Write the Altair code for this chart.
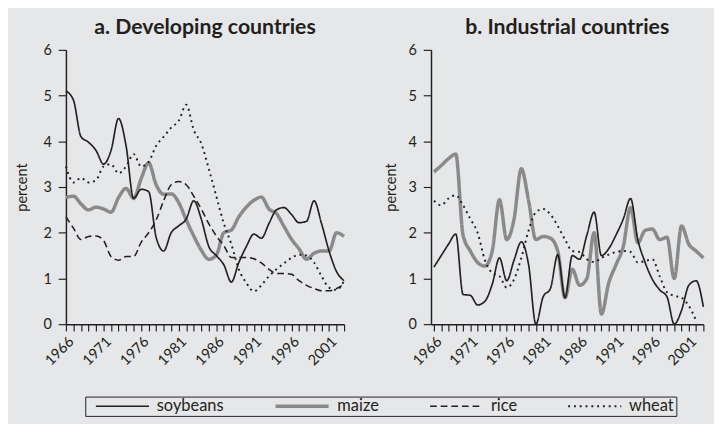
import altair as alt
import pandas as pd

years = list(range(1966, 2004))
crops = ["soybeans", "maize", "rice", "wheat"]

# a. Developing countries (percent)
dev_soybeans = [5.1, 4.9, 4.1, 3.98, 3.8, 3.5, 3.8, 4.5, 3.9, 2.75, 2.95, 2.9, 1.9, 1.6, 2.0, 2.15, 2.3, 2.7, 2.3, 1.7,
                1.5, 1.3, 0.92, 1.35, 1.7, 1.97, 1.88, 2.2, 2.5, 2.55, 2.4, 2.22, 2.25, 2.7, 2.2, 1.6, 1.15, 0.95]
dev_maize = [2.77, 2.8, 2.63, 2.5, 2.56, 2.52, 2.45, 2.77, 2.97, 2.75, 3.18, 3.53, 3.05, 2.84, 2.85, 2.66, 2.28, 1.93, 1.62, 1.42,
             1.51, 2.0, 2.06, 2.35, 2.56, 2.71, 2.78, 2.52, 2.42, 2.14, 1.86, 1.65, 1.42, 1.55, 1.6, 1.6, 2.0, 1.92]
dev_rice = [2.35, 2.1, 1.85, 1.92, 1.93, 1.83, 1.48, 1.4, 1.48, 1.48, 1.79, 2.0, 2.28, 2.7, 3.05, 3.12, 3.05, 2.8, 2.52, 2.2,
            1.93, 1.72, 1.46, 1.46, 1.46, 1.43, 1.34, 1.2, 1.11, 1.11, 1.09, 0.95, 0.85, 0.78, 0.73, 0.73, 0.78, 0.88]
dev_wheat = [3.45, 3.1, 3.2, 3.1, 3.15, 3.45, 3.5, 3.3, 3.45, 3.72, 3.45, 3.55, 3.9, 4.1, 4.3, 4.45, 4.8, 4.25, 3.95, 3.4,
             2.8, 2.2, 1.75, 1.2, 0.9, 0.72, 0.85, 1.05, 1.2, 1.33, 1.45, 1.52, 1.5, 1.35, 1.05, 0.8, 0.75, 0.95]

# b. Industrial countries (percent)
ind_soybeans = [1.25, 1.5, 1.75, 1.97, 0.65, 0.63, 0.42, 0.5, 0.87, 1.45, 0.95, 1.4, 1.8, 1.3, 0.0, 0.6, 0.78, 1.52, 0.58, 1.5,
                1.42, 1.95, 2.45, 1.5, 1.65, 1.95, 2.3, 2.75, 1.85, 1.35, 0.98, 0.75, 0.6, 0.0, 0.3, 0.85, 0.95, 0.38]
ind_maize = [3.33, 3.47, 3.62, 3.72, 1.95, 1.6, 1.35, 1.27, 1.6, 2.72, 1.85, 2.3, 3.4, 2.7, 1.85, 1.92, 1.88, 1.6, 0.58, 1.2,
             0.85, 1.0, 2.0, 0.22, 0.9, 1.3, 1.7, 2.55, 1.78, 2.05, 2.08, 1.85, 1.9, 1.0, 2.15, 1.75, 1.6, 1.45]
ind_rice = [None] * 38
ind_wheat = [2.7, 2.6, 2.75, 2.82, 2.6, 2.3, 2.0, 1.4, 1.12, 1.05, 0.8, 0.98, 1.45, 2.05, 2.45, 2.52, 2.4, 2.15, 1.85, 1.6,
             1.58, 1.42, 1.36, 1.45, 1.52, 1.58, 1.6, 1.58, 1.35, 1.38, 1.42, 1.05, 0.7, 0.62, 0.58, 0.4, 0.08, None]

draw_order = ["maize", "soybeans", "rice", "wheat"]


def make_frame(series):
    rows = []
    for i, crop in enumerate(draw_order):
        for yr, v in zip(years, series[crop]):
            if v is not None:
                rows.append({"year": yr, "value": v, "crop": crop, "k": i})
    return pd.DataFrame(rows)


dev_df = make_frame({"soybeans": dev_soybeans, "maize": dev_maize, "rice": dev_rice, "wheat": dev_wheat})
ind_df = make_frame({"soybeans": ind_soybeans, "maize": ind_maize, "rice": ind_rice, "wheat": ind_wheat})

FONT = "Lato"
INK = "#231f20"

legend = alt.Legend(
    title=None, orient="none", legendX=20, legendY=359, direction="horizontal",
    strokeColor=INK, padding=2, symbolType="stroke", symbolSize=3025, clipHeight=16, symbolOffset=8,
    labelFont=FONT, labelFontSize=17, labelColor=INK, columnPadding=43, labelOffset=7,
    symbolStrokeColor=INK,
)

color = alt.Color("crop:N", scale=alt.Scale(domain=crops, range=[INK, "#8a8a8a", INK, INK]), legend=legend)
dash = alt.StrokeDash("crop:N", scale=alt.Scale(domain=crops, range=[[1, 0], [1, 0], [7, 4], [2, 4]]), legend=legend)
swidth = alt.StrokeWidth("crop:N", scale=alt.Scale(type="ordinal", domain=crops, range=[1.7, 3.6, 1.6, 2.0]),
                         legend=legend)

label_expr = "(datum.value - 1966) % 5 == 0 ? format(datum.value, 'd') : ''"


def panel(df, title, xdomain, title_pad, width):
    return alt.Chart(df).mark_line(interpolate="monotone", strokeCap="butt").encode(
        x=alt.X("year:Q", scale=alt.Scale(domain=xdomain, nice=False, zero=False),
                axis=alt.Axis(values=years, labelExpr=label_expr, labelAngle=-45, tickSize=7,
                              title=None, grid=False, labelFontSize=15, labelFont=FONT, labelColor=INK,
                              labelPadding=3, labelOverlap=False, labelFlush=False)),
        y=alt.Y("value:Q", scale=alt.Scale(domain=[0, 6], nice=False),
                axis=alt.Axis(values=[0, 1, 2, 3, 4, 5, 6], tickSize=8, title="percent", grid=False,
                              labelFontSize=15, labelFont=FONT, labelColor=INK, labelPadding=7,
                              titleFont=FONT, titleFontSize=15, titleFontWeight="normal", titleColor=INK,
                              titlePadding=title_pad)),
        color=color,
        strokeDash=dash,
        strokeWidth=swidth,
        order=alt.Order("k:Q"),
    ).properties(
        width=width, height=284,
        title=alt.TitleParams(title, font=FONT, fontSize=22, fontWeight="bold", color=INK,
                              anchor="middle", offset=4),
    )


left = panel(dev_df, "a. Developing countries", [1966, 2003], 14, 288)
right = panel(ind_df, "b. Industrial countries", [1965.6, 2003], 10, 282)

chart = alt.hconcat(left, right, spacing=30).properties(
    background="#e6e7e8",
    padding={"left": 7, "top": 2, "right": 0, "bottom": 0},
).configure_view(stroke=None).configure_axis(
    domainColor=INK, domainWidth=1.5, tickColor=INK, tickWidth=1.2,
)

chart.save("out.html", embed_options={"renderer": "svg", "actions": False})
